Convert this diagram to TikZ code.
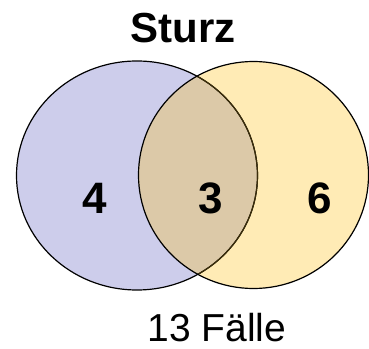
\documentclass[tikz,border=0pt]{standalone}
\usepackage{fontspec}
\setmainfont{Liberation Sans}
\definecolor{lav}{HTML}{CDCDEB}
\definecolor{yel}{HTML}{FFEBB5}
\definecolor{tan}{HTML}{DCC9A8}
\definecolor{brn}{HTML}{3C2E0A}
\begin{document}
\begin{tikzpicture}[x=1pt,y=1pt,
  num/.style={font=\fontsize{44}{44}\selectfont\bfseries,anchor=base,inner sep=0pt},
  ring/.style={line width=1.2pt}]
\useasboundingbox (0,0) rectangle (369,348);
\coordinate (L) at (137,172.5);
\coordinate (R) at (253.5,173);
\fill[lav] (L) ellipse [x radius=120.5, y radius=114.5];
\fill[yel] (R) ellipse [x radius=115, y radius=113.5];
\begin{scope}
  \clip (L) ellipse [x radius=120.5, y radius=114.5];
  \fill[tan] (R) ellipse [x radius=115, y radius=113.5];
\end{scope}
\draw[ring] (L) ellipse [x radius=120.5, y radius=114.5];
\begin{scope}
  \clip (R) ellipse [x radius=115, y radius=113.5];
  \draw[ring,brn] (L) ellipse [x radius=120.5, y radius=114.5];
\end{scope}
\draw[ring] (R) ellipse [x radius=115, y radius=113.5];
\node[font=\fontsize{42}{42}\selectfont\bfseries,anchor=base,inner sep=0pt] (title) at (183.3,305) {Sturz};
\node[num] (a) at (94.5,134.7) {4};
\node[num] (b) at (211,134.7) {3};
\node[num] (c) at (319.7,134.7) {6};
\node[font=\fontsize{39}{39}\selectfont,anchor=base,inner sep=0pt] (total) at (216.7,6.3) {13 Fälle};
\end{tikzpicture}
\end{document}
